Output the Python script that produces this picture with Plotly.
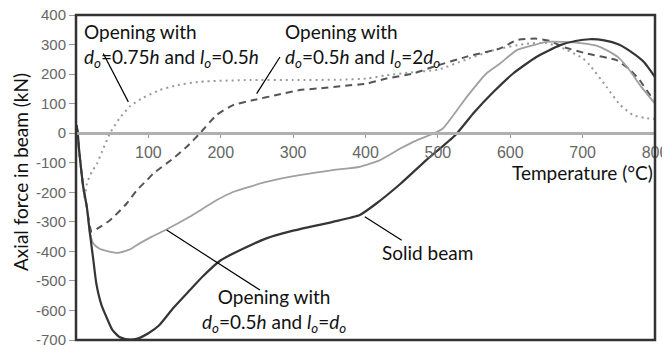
import plotly.graph_objects as go

# ---------------- data ----------------
solid_T = [0, 1.5, 4, 7, 10, 15, 19, 24, 28, 35, 42, 50, 60, 72, 85, 100, 115, 135, 157, 175, 200, 230,
           263, 300, 355, 392, 415, 448, 484, 524, 550, 577, 604, 636, 669, 690, 710, 730, 750, 770, 785, 800]
solid_F = [0, 25, -50, -120, -182, -250, -335, -430, -508, -580, -622, -665, -690, -698, -695, -677, -650,
           -590, -532, -485, -430, -392, -356, -330, -300, -277, -238, -172, -91, -7, 70, 140, 202, 258,
           298, 312, 318, 314, 300, 270, 240, 190]

lodo_T = [0, 1.5, 4, 7, 10, 15, 19, 24, 32, 42, 58, 75, 88, 105, 125, 157, 194, 217, 263, 309, 355, 392,
          420, 448, 470, 494, 507, 540, 567, 586, 609, 632, 650, 673, 700, 719, 733, 750, 765, 780, 800]
lodo_F = [0, 25, -50, -120, -182, -250, -335, -373, -390, -398, -405, -393, -373, -350, -326, -283, -227,
          -199, -165, -142, -125, -114, -91, -52, -25, -1, 16, 123, 202, 236, 281, 298, 309, 309, 304,
          296, 281, 255, 213, 160, 100]

lo2do_T = [0, 1.5, 4, 7, 10, 15, 19, 22, 30, 47, 70, 84, 98, 107, 134, 153, 171, 194, 217, 245, 277, 309,
           333, 365, 402, 429, 466, 494, 540, 586, 609, 636, 655, 673, 705, 747, 765, 779, 795, 800]
lo2do_F = [0, 25, -50, -120, -182, -250, -315, -334, -322, -295, -238, -193, -159, -136, -86, -46, -1, 61,
           95, 112, 129, 146, 151, 159, 168, 185, 202, 225, 259, 287, 315, 320, 312, 292, 270, 247, 215,
           179, 123, 112]

d075_T = [0, 1.5, 4, 7, 10, 12, 15, 22, 29, 38, 47, 60, 75, 93, 116, 139, 171, 240, 300, 365, 402, 429,
          460, 500, 540, 580, 620, 650, 675, 700, 710, 733, 752, 770, 785, 800]
d075_F = [0, 25, -50, -120, -182, -225, -170, -130, -103, -50, 0, 50, 92, 120, 146, 162, 174, 180, 180,
          181, 185, 196, 205, 215, 250, 283, 302, 305, 285, 254, 230, 157, 95, 61, 52, 48]

x_ticks = [100, 200, 300, 400, 500, 600, 700, 800]
y_ticks = [400, 300, 200, 100, 0, -100, -200, -300, -400, -500, -600, -700]

TEXT_FONT = "Lato"
TICK_FONT = "Liberation Sans"

fig = go.Figure()
fig.add_trace(go.Scatter(x=d075_T, y=d075_F, mode="lines",
                         line=dict(color="#9a9a9a", width=2, dash="2px,4px", shape="spline", smoothing=0.5)))
fig.add_trace(go.Scatter(x=lo2do_T, y=lo2do_F, mode="lines",
                         line=dict(color="#555555", width=2, dash="7px,5px", shape="spline", smoothing=0.5)))
fig.add_trace(go.Scatter(x=lodo_T, y=lodo_F, mode="lines",
                         line=dict(color="#a0a0a0", width=1.8, shape="spline", smoothing=0.5)))
fig.add_trace(go.Scatter(x=solid_T, y=solid_F, mode="lines",
                         line=dict(color="#353535", width=2.2, shape="spline", smoothing=0.5)))

zero_pos = 700 / 1100.0

# page body has an 8px default margin; figure offset so the plot area lands where the reference has it
fig.update_layout(
    width=662, height=341,
    margin=dict(l=68, r=15, t=7, b=9, autoexpand=False),
    paper_bgcolor="white", plot_bgcolor="white",
    showlegend=False,
    xaxis=dict(range=[0, 800], anchor="free", position=zero_pos, automargin=False,
               showgrid=False, zeroline=False,
               showline=True, linecolor="#b0b0b0", linewidth=2.5,
               tickmode="array", tickvals=x_ticks, ticktext=[str(v) for v in x_ticks],
               ticks="outside", ticklen=3, tickcolor="#999999", tickwidth=1,
               ticklabelstandoff=1, ticklabeloverflow="allow",
               tickfont=dict(family=TICK_FONT, size=16, color="#666666")),
    yaxis=dict(range=[-700, 400], showgrid=False, zeroline=False, automargin=False,
               showline=False,
               tickmode="array", tickvals=y_ticks, ticktext=[str(v) for v in y_ticks],
               ticks="outside", ticklen=6, tickcolor="#999999", tickwidth=1,
               ticklabeloverflow="allow",
               tickfont=dict(family=TICK_FONT, size=15, color="#666666")),
)

# frame
fig.add_shape(type="rect", xref="paper", yref="paper", x0=0, y0=0, x1=1, y1=1,
              line=dict(color="#333333", width=2.5), layer="above")

# leader lines
leaders = [
    (37.7, 270, 72.3, 106),
    (281.8, 258, 249.6, 134),
    (125.3, -328, 254.2, -531),
    (399, -283, 450, -362),
]
for x0, y0, x1, y1 in leaders:
    fig.add_shape(type="line", xref="x", yref="y", x0=x0, y0=y0, x1=x1, y1=y1,
                  line=dict(color="black", width=1.2))

tf = dict(family=TEXT_FONT, size=19, color="#111111")
fig.add_annotation(x=8, y=298, xref="x", yref="y", xanchor="left", yanchor="middle", align="left",
                   showarrow=False, font=tf,
                   text="Opening with<br><i>d</i><sub><i>o</i></sub>=0.75<i>h</i> and <i>l</i><sub><i>o</i></sub>=0.5<i>h</i>")
fig.add_annotation(x=286, y=298, xref="x", yref="y", xanchor="left", yanchor="middle", align="left",
                   showarrow=False, font=tf,
                   text="Opening with<br><i>d</i><sub><i>o</i></sub>=0.5<i>h</i> and <i>l</i><sub><i>o</i></sub>=2<i>d</i><sub><i>o</i></sub>")
fig.add_annotation(x=274, y=-599, xref="x", yref="y", xanchor="center", yanchor="middle", align="center",
                   showarrow=False, font=tf,
                   text="Opening with<br><i>d</i><sub><i>o</i></sub>=0.5<i>h</i> and <i>l</i><sub><i>o</i></sub>=<i>d</i><sub><i>o</i></sub>")
fig.add_annotation(x=485, y=-405, xref="x", yref="y", xanchor="center", yanchor="middle",
                   showarrow=False, font=tf, text="Solid beam")

# axis titles
fig.add_annotation(x=1, y=(340 - 172) / 325.0, xref="paper", yref="paper", xanchor="right", yanchor="middle",
                   showarrow=False, font=tf, text="Temperature (°C)")
fig.add_annotation(x=(20 - 76) / 579.0, y=(340 - 172) / 325.0, xref="paper", yref="paper", xanchor="center",
                   yanchor="middle", textangle=-90, showarrow=False, font=tf,
                   text="Axial force in beam (kN)")

fig.write_html("out.html")
